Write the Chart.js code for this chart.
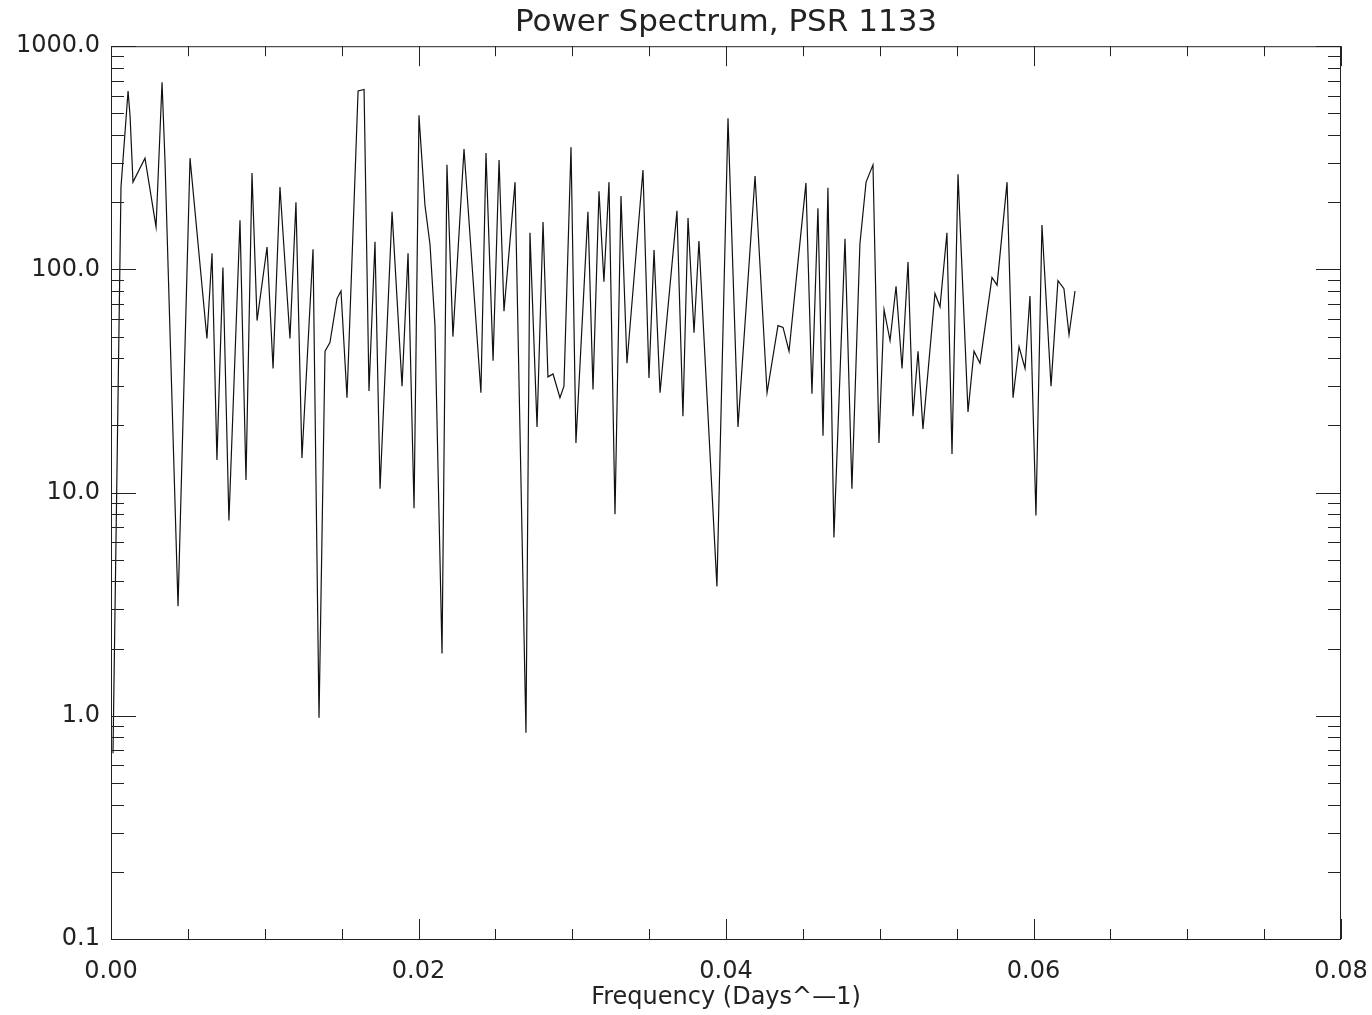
<!DOCTYPE html>
<html>
<head>
<meta charset="utf-8">
<title>Power Spectrum, PSR 1133</title>
<script src="https://cdn.jsdelivr.net/npm/chart.js@4.4.1/dist/chart.umd.min.js"></script>
<style>
  html, body { margin: 0; padding: 0; background: #fff; }
  canvas { display: block; }
</style>
</head>
<body>
<canvas id="spec" width="1372" height="1015"></canvas>
<script>
// frequency in days^-1
const freq = [
  0.00013, 0.00065, 0.00111, 0.00124, 0.00143, 0.00221, 0.00293, 0.00332, 0.00351, 0.00436,
  0.00514, 0.00624, 0.00657, 0.00689, 0.00728, 0.00767, 0.00839, 0.00878, 0.00917, 0.00950,
  0.01015, 0.01054, 0.01099, 0.01164, 0.01203, 0.01242, 0.01314, 0.01353, 0.01392, 0.01424,
  0.01470, 0.01496, 0.01535, 0.01607, 0.01646, 0.01678, 0.01717, 0.01750, 0.01828, 0.01893,
  0.01932, 0.01971, 0.02003, 0.02042, 0.02075, 0.02107, 0.02153, 0.02185, 0.02224, 0.02296,
  0.02406, 0.02439, 0.02485, 0.02524, 0.02556, 0.02628, 0.02699, 0.02725, 0.02771, 0.02810,
  0.02842, 0.02875, 0.02920, 0.02946, 0.02992, 0.03024, 0.03102, 0.03135, 0.03174, 0.03206,
  0.03239, 0.03278, 0.03317, 0.03356, 0.03460, 0.03499, 0.03532, 0.03571, 0.03681, 0.03720,
  0.03753, 0.03792, 0.03824, 0.03941, 0.04013, 0.04078, 0.04189, 0.04267, 0.04338, 0.04371,
  0.04410, 0.04520, 0.04559, 0.04598, 0.04631, 0.04663, 0.04702, 0.04774, 0.04819, 0.04871,
  0.04911, 0.04956, 0.04995, 0.05028, 0.05067, 0.05106, 0.05145, 0.05184, 0.05216, 0.05249,
  0.05281, 0.05359, 0.05392, 0.05437, 0.05470, 0.05509, 0.05574, 0.05613, 0.05652, 0.05730,
  0.05763, 0.05828, 0.05867, 0.05906, 0.05945, 0.05977, 0.06016, 0.06055, 0.06114, 0.06159,
  0.06198, 0.06231, 0.06270
];

// power at each frequency
const power = [
  0.68, 234, 630, 486, 246, 315, 155, 690, 309, 3.1,
  315, 49, 118, 14, 102, 7.5, 166, 11.4, 270, 59,
  126, 36, 234, 49, 200, 14.3, 123, 0.98, 43, 47,
  74, 80, 26.6, 630, 640, 28.5, 133, 10.4, 181, 30,
  118, 8.5, 490, 194, 129, 56, 1.9, 294, 50, 346,
  28, 332, 39, 309, 65, 246, 0.84, 146, 19.7, 163,
  33, 34, 26.6, 30, 353, 16.7, 181, 29, 224, 88,
  246, 8.0, 213, 38, 279, 32.6, 122, 28, 183, 22,
  170, 52, 134, 3.8, 476, 19.7, 262, 28, 56, 55,
  43, 244, 27.7, 188, 18, 232, 6.3, 137, 10.4, 130,
  246, 294, 16.7, 66, 48, 84, 36, 108, 22, 43,
  19.3, 78, 68, 146, 14.9, 267, 23, 43, 38, 92,
  85, 246, 26.6, 45, 36, 76, 7.9, 158, 30, 89,
  82, 51, 80
];

const yDecades = [0.1, 1, 10, 100, 1000];
const xMajor = [0, 0.02, 0.04, 0.06, 0.08];

const ink = '#222';

// IDL style box with inward ticks on all four sides
const boxTicks = {
  id: 'boxTicks',
  afterDraw(chart) {
    const { ctx, chartArea: a, scales: { x, y } } = chart;
    ctx.save();
    ctx.strokeStyle = ink;
    ctx.lineWidth = 1;
    ctx.strokeRect(a.left + 0.5, a.top + 0.5, a.right - a.left - 1, a.bottom - a.top);
    ctx.beginPath();
    for (let i = 0; i <= 16; i++) {
      const px = Math.round(x.getPixelForValue(i * 0.005)) + 0.5;
      const len = i % 4 === 0 ? 20 : 10;
      ctx.moveTo(px, a.bottom); ctx.lineTo(px, a.bottom - len);
      ctx.moveTo(px, a.top); ctx.lineTo(px, a.top + len);
    }
    for (let d = 0; d < yDecades.length; d++) {
      for (let m = 1; m <= 9; m++) {
        if (d === yDecades.length - 1 && m > 1) break;
        const py = Math.round(y.getPixelForValue(yDecades[d] * m)) + 0.5;
        const len = m === 1 ? 25 : 13;
        ctx.moveTo(a.left, py); ctx.lineTo(a.left + len, py);
        ctx.moveTo(a.right, py); ctx.lineTo(a.right - len, py);
      }
    }
    ctx.stroke();
    ctx.restore();
  }
};

Chart.defaults.font.family = '"DejaVu Sans", sans-serif';
Chart.defaults.color = ink;

new Chart(document.getElementById('spec'), {
  type: 'line',
  data: {
    datasets: [{
      data: freq.map((f, i) => ({ x: f, y: power[i] })),
      borderColor: '#111',
      borderWidth: 1.2,
      pointRadius: 0,
      tension: 0,
      fill: false
    }]
  },
  options: {
    responsive: false,
    animation: false,
    devicePixelRatio: 1,
    layout: { padding: { left: 0, right: 31, top: 0, bottom: 0 } },
    plugins: {
      legend: { display: false },
      tooltip: { enabled: false },
      title: {
        display: true,
        fullSize: false,
        text: 'Power Spectrum, PSR 1133',
        font: { size: 31, weight: 'normal' },
        color: ink,
        padding: { top: 4, bottom: 5 }
      }
    },
    scales: {
      x: {
        type: 'linear',
        min: 0,
        max: 0.08,
        afterBuildTicks: s => { s.ticks = xMajor.map(v => ({ value: v })); },
        afterFit: s => { s.height = 76; s.paddingLeft = 0; s.paddingRight = 0; },
        ticks: {
          callback: v => v.toFixed(2),
          font: { size: 24 },
          padding: 18,
          maxRotation: 0,
          autoSkip: false
        },
        grid: { display: false, drawTicks: false },
        border: { display: false },
        title: {
          display: true,
          text: 'Frequency (Days^\u20141)',
          font: { size: 24 },
          padding: { top: 0, bottom: 3 }
        }
      },
      y: {
        type: 'logarithmic',
        min: 0.1,
        max: 1000,
        afterBuildTicks: s => { s.ticks = yDecades.map(v => ({ value: v })); },
        afterFit: s => { s.width = 111; s.paddingTop = 0; s.paddingBottom = 0; },
        ticks: {
          callback: v => v.toFixed(1),
          font: { size: 24 },
          padding: 11,
          autoSkip: false
        },
        grid: { display: false, drawTicks: false },
        border: { display: false }
      }
    }
  },
  plugins: [boxTicks]
});
</script>
</body>
</html>
